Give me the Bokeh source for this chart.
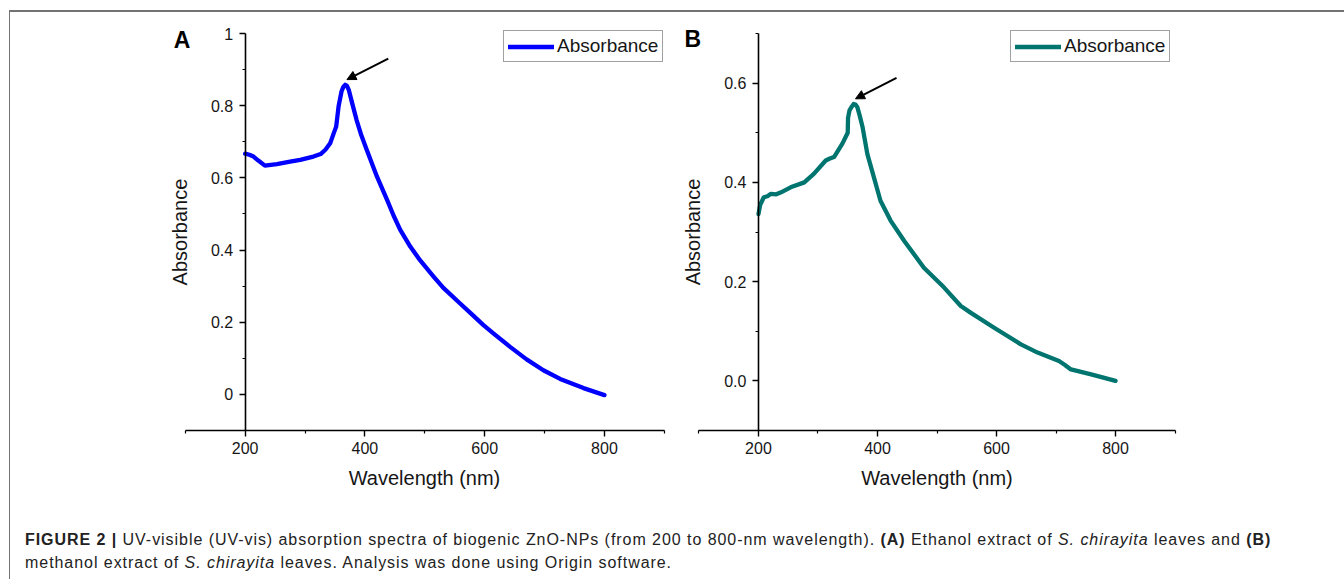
from bokeh.plotting import figure
from bokeh.models import FixedTicker, Legend, LegendItem, Arrow, NormalHead, Label, Div
from bokeh.layouts import row, column
from bokeh.embed import file_html
from bokeh.resources import INLINE

# ---------------- data ----------------
wl_a = [200, 207, 214, 222, 233, 253, 275, 292, 314, 326, 334, 342, 348, 352, 356,
        361, 364, 367, 370, 373, 379, 386, 394, 403, 420, 437, 448, 459, 476, 492,
        515, 531, 559, 576, 598, 615, 643, 670, 698, 726, 765, 800]
abs_a = [0.667, 0.664, 0.659, 0.648, 0.634, 0.638, 0.645, 0.650, 0.659, 0.666, 0.678,
         0.696, 0.724, 0.742, 0.798, 0.840, 0.852, 0.858, 0.855, 0.844, 0.805, 0.761,
         0.718, 0.678, 0.604, 0.539, 0.495, 0.456, 0.409, 0.372, 0.326, 0.295, 0.252,
         0.226, 0.192, 0.1685, 0.131, 0.097, 0.067, 0.043, 0.0175, -0.002]

wl_b = [200, 203, 209, 215, 221, 230, 238, 254, 277, 293, 313, 320, 327, 341, 350,
        350.5, 353, 357, 360, 363, 366, 370, 375, 383, 394, 405, 422, 445, 478, 512,
        540, 557, 596, 641, 669, 705, 715, 725, 759, 800]
abs_b = [0.336, 0.355, 0.370, 0.372, 0.377, 0.376, 0.380, 0.390, 0.400, 0.417, 0.444,
         0.448, 0.451, 0.478, 0.500, 0.530, 0.545, 0.553, 0.558, 0.557, 0.552, 0.535,
         0.511, 0.457, 0.410, 0.363, 0.323, 0.282, 0.228, 0.188, 0.151, 0.137, 0.107,
         0.0735, 0.057, 0.040, 0.032, 0.023, 0.013, 0.000]

x_ticks = [200, 400, 600, 800]
x_minor = [100, 300, 500, 700, 900]
x_bounds = (100, 900)
y_ticks_a = [0, 0.2, 0.4, 0.6, 0.8, 1.0]
y_labels_a = ["0", "0.2", "0.4", "0.6", "0.8", "1"]
y_minor_a = [0.1, 0.3, 0.5, 0.7, 0.9]
y_bounds_a = (-0.1, 1.0)
y_ticks_b = [0.0, 0.2, 0.4, 0.6]
y_labels_b = ["0.0", "0.2", "0.4", "0.6"]
y_minor_b = [0.1, 0.3, 0.5, 0.7]
y_bounds_b = (-0.1, 0.7)

series_label = "Absorbance"
x_title = "Wavelength (nm)"
y_title = "Absorbance"
caption_html = ('<b>FIGURE 2 |</b> UV-visible (UV-vis) absorption spectra of biogenic ZnO-NPs '
                '(from 200 to 800-nm wavelength). <b>(A)</b> Ethanol extract of <i>S. chirayita</i> '
                'leaves and <b>(B)</b><br>methanol extract of <i>S. chirayita</i> leaves. '
                'Analysis was done using Origin software.')

FONT = "Liberation Sans"
TXT = "#161616"


def panel(wl, ab, color, x_range, y_range, y_ticks, y_labels, y_minor, y_bounds,
          letter, letter_pos, legend_loc, width, height, bl, br, bt, bb):
    p = figure(width=width, height=height, x_range=x_range, y_range=y_range,
               output_backend="svg", toolbar_location=None, min_border=0,
               min_border_left=bl, min_border_right=br, min_border_top=bt,
               min_border_bottom=bb)
    p.outline_line_color = None
    p.grid.visible = False
    p.background_fill_color = "white"
    p.border_fill_color = "white"

    r = p.line(wl, ab, line_color=color, line_width=4.3, line_join="round", line_cap="round")

    for ax in (p.xaxis[0], p.yaxis[0]):
        ax.axis_line_color = "black"
        ax.axis_line_width = 1.6
        ax.major_tick_line_color = "black"
        ax.minor_tick_line_color = "black"
        ax.major_tick_line_width = 1.4
        ax.minor_tick_line_width = 1.2
        ax.major_tick_in = 0
        ax.major_tick_out = 6
        ax.minor_tick_in = 0
        ax.minor_tick_out = 3
        ax.major_label_text_font = FONT
        ax.major_label_text_font_size = "16px"
        ax.major_label_text_color = TXT
        ax.axis_label_text_font = FONT
        ax.axis_label_text_font_size = "20px"
        ax.axis_label_text_font_style = "normal"
        ax.axis_label_text_color = TXT

    p.xaxis.ticker = FixedTicker(ticks=x_ticks, minor_ticks=x_minor)
    p.xaxis.bounds = x_bounds
    p.xaxis.axis_label = x_title
    p.xaxis.major_label_standoff = 5
    p.xaxis.axis_label_standoff = 10

    p.yaxis.ticker = FixedTicker(ticks=y_ticks, minor_ticks=y_minor)
    p.yaxis.bounds = y_bounds
    p.yaxis.major_label_overrides = {t: s for t, s in zip(y_ticks, y_labels)}
    p.yaxis.axis_label = y_title
    p.yaxis.major_label_standoff = 6
    p.yaxis.axis_label_standoff = 17
    p.yaxis.fixed_location = x_ticks[0]

    legend = Legend(items=[LegendItem(label=series_label, renderers=[r])],
                    location=legend_loc, margin=0, padding=4, spacing=0,
                    glyph_width=46, glyph_height=21, label_height=21, label_standoff=3,
                    label_text_font=FONT, label_text_font_size="19px",
                    label_text_color=TXT, border_line_color="#444444",
                    border_line_width=1, background_fill_alpha=1)
    p.add_layout(legend)

    # arrow pointing at the absorption maximum
    i = max(range(len(ab)), key=lambda k: ab[k])
    px, py = wl[i], ab[i]
    span = y_bounds[1] - y_bounds[0]
    p.add_layout(Arrow(x_start=px + 72, y_start=py + span * 0.066,
                       x_end=px + 3, y_end=py + span * 0.013,
                       line_color="black", line_width=2,
                       end=NormalHead(size=9, fill_color="black", line_color="black")))

    p.add_layout(Label(x=letter_pos[0], y=letter_pos[1], text=letter,
                       text_font=FONT, text_font_style="bold", text_font_size="23px",
                       text_color="black", text_align="center", text_baseline="middle"))
    return p


pA = panel(wl_a, abs_a, "#0000ff", (72, 927), (-0.1, 1.0333), y_ticks_a, y_labels_a,
           y_minor_a, y_bounds_a, "A", (94.7, 0.981), (335, 368),
           width=670, height=488, bl=158, br=0, bt=9, bb=70)
pB = panel(wl_b, abs_b, "#007570", (69, 931), (-0.1, 0.7242), y_ticks_b, y_labels_b,
           y_minor_b, y_bounds_b, "B", (89.6, 0.688), (330, 368),
           width=656, height=488, bl=0, br=143, bt=8, bb=70)

cap = Div(text=('<div style="padding:23px 0 0 10px; font-family:\'Liberation Sans\', Arial, sans-serif; '
                'font-size:16px; letter-spacing:0.95px; line-height:23px; color:#222; white-space:nowrap">'
                + caption_html + '</div>'),
          width=1326, height=71)

layout = column(row(pA, pB), cap, margin=(10, 0, 0, 9),
                styles={"border-top": "2px solid #727272", "border-left": "1px solid #727272"})

open("out.html", "w").write(file_html(layout, INLINE))
